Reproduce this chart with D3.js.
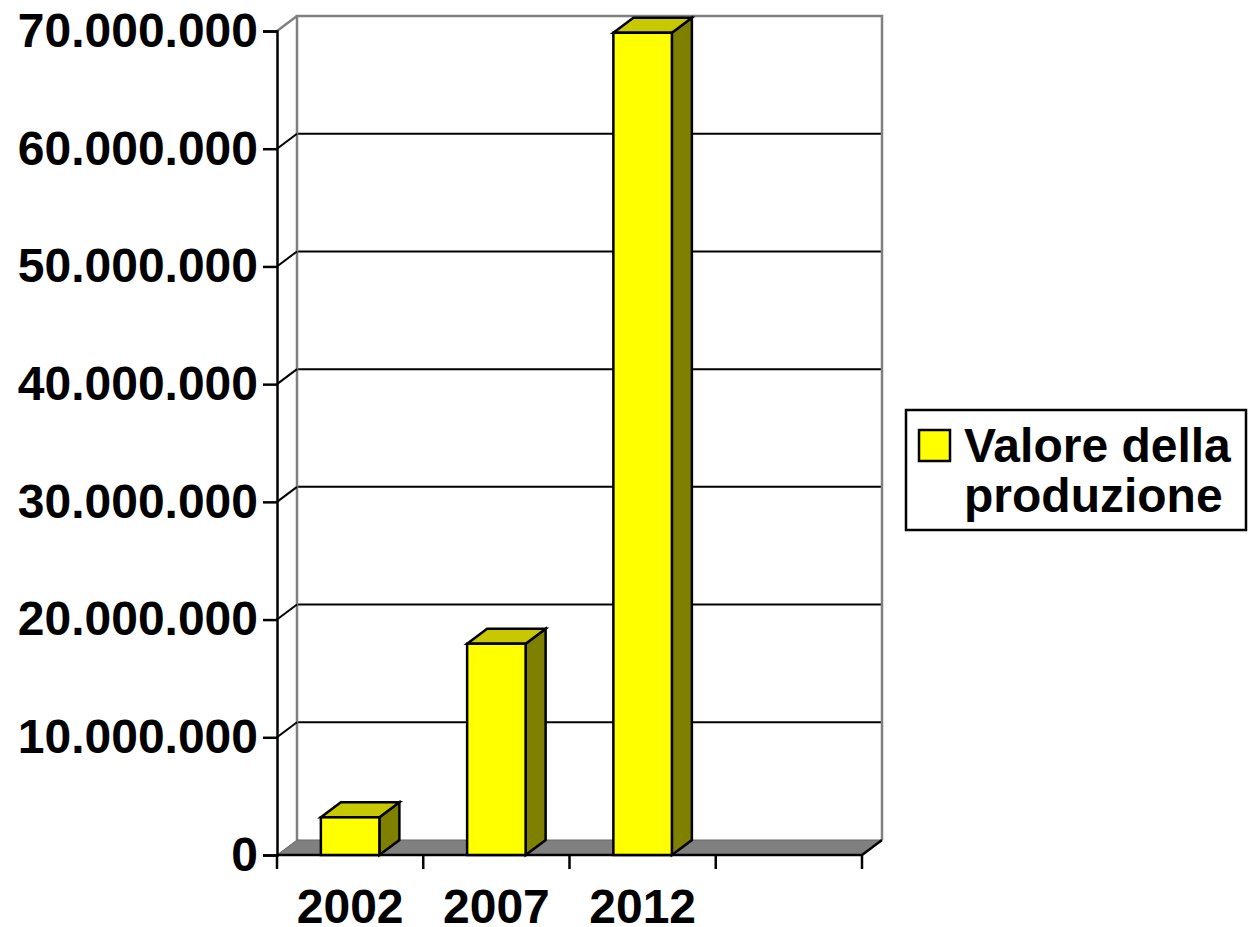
<!DOCTYPE html>
<html><head><meta charset="utf-8">
<script src="https://cdn.jsdelivr.net/npm/d3@7"></script>
<style>body{margin:0;background:#fff}svg{display:block}text{font-family:"Liberation Sans",Arial,sans-serif;font-weight:bold}</style>
</head><body>
<script>
const categories = ["2002", "2007", "2012", ""];
const values = [3200000, 17950000, 69850000, null];
const yTicks = [0, 10000000, 20000000, 30000000, 40000000, 50000000, 60000000, 70000000];
const tickLabels = ["0", "10.000.000", "20.000.000", "30.000.000", "40.000.000", "50.000.000", "60.000.000", "70.000.000"];
const seriesName = ["Valore della", "produzione"];

const W = 1249, H = 927;
const svg = d3.select("body").append("svg").attr("width", W).attr("height", H);
const dx = 20, dy = 15;
const x = d3.scaleBand().domain(categories).range([277, 862]).padding(0);
const y = d3.scaleLinear().domain([0, 70000000]).range([855, 31]);
const bw = x.bandwidth() / 2.5;

// back wall
const bx0 = 277 + dx, bx1 = 862 + dx;
svg.append("rect").attr("x", bx0).attr("y", y(70000000) - dy).attr("width", bx1 - bx0).attr("height", y(0) - y(70000000)).attr("fill", "#fff");
svg.selectAll(".grid").data(yTicks.slice(1, -1)).enter().append("line")
  .attr("x1", bx0).attr("x2", bx1).attr("y1", d => y(d) - dy).attr("y2", d => y(d) - dy)
  .attr("stroke", "#000").attr("stroke-width", 2);
svg.append("path").attr("d", `M${bx0},${y(0) - dy}V${y(70000000) - dy}H${bx1}V${y(0) - dy}`)
  .attr("fill", "none").attr("stroke", "#808080").attr("stroke-width", 2.5);
svg.append("line").attr("x1", 277).attr("y1", y(70000000)).attr("x2", bx0).attr("y2", y(70000000) - dy)
  .attr("stroke", "#808080").attr("stroke-width", 2.5);
svg.selectAll(".diag").data(yTicks.slice(1, -1)).enter().append("line")
  .attr("x1", 277).attr("y1", d => y(d)).attr("x2", bx0).attr("y2", d => y(d) - dy)
  .attr("stroke", "#000").attr("stroke-width", 2);

// floor
svg.append("path").attr("d", `M277,${y(0)}L862,${y(0)}L${bx1},${y(0) - dy}L${bx0},${y(0) - dy}Z`)
  .attr("fill", "#808080").attr("stroke", "#666").attr("stroke-width", 1);
svg.append("path").attr("d", `M277,${y(0)}L862,${y(0)}L${bx1},${y(0) - dy}`)
  .attr("fill", "none").attr("stroke", "#000").attr("stroke-width", 2.5);

// bars
const data = categories.map((c, i) => ({c, v: values[i]})).filter(d => d.v != null);
const g = svg.append("g").attr("stroke", "#000").attr("stroke-width", 2.5).attr("stroke-linejoin", "miter");
data.forEach(d => {
  const xl = x(d.c) + (x.bandwidth() - bw) / 2, xr = xl + bw;
  const yt = y(d.v), yb = y(0);
  g.append("path").attr("d", `M${xr},${yb}L${xr + dx},${yb - dy}L${xr + dx},${yt - dy}L${xr},${yt}Z`).attr("fill", "#808000");
  g.append("path").attr("d", `M${xl},${yt}L${xl + dx},${yt - dy}L${xr + dx},${yt - dy}L${xr},${yt}Z`).attr("fill", "#C8C800");
  g.append("rect").attr("x", xl).attr("y", yt).attr("width", bw).attr("height", yb - yt).attr("fill", "#FFFF00");
});

// y axis (front)
const yAxis = d3.axisLeft(y).tickValues(yTicks).tickSize(14).tickFormat((d, i) => tickLabels[i]);
const ya = svg.append("g").attr("transform", "translate(277,0)").call(yAxis);
ya.select(".domain").attr("stroke", "#000").attr("stroke-width", 2.5);
ya.selectAll(".tick line").attr("stroke", "#000").attr("stroke-width", 2.5);
ya.selectAll(".tick text").attr("x", -19).attr("font-size", 48).attr("fill", "#000")
  .attr("font-family", "'Liberation Sans', Arial, sans-serif").attr("font-weight", "bold");

// x axis
const xa = svg.append("g").attr("transform", `translate(0,${y(0)})`)
  .call(d3.axisBottom(x).tickSize(0).tickSizeOuter(0));
xa.select(".domain").remove();
xa.selectAll(".tick text").attr("y", 34).attr("dy", "0.71em").attr("font-size", 48).attr("fill", "#000")
  .attr("font-family", "'Liberation Sans', Arial, sans-serif").attr("font-weight", "bold");
const bounds = categories.map(c => x(c)).concat([x(categories[categories.length - 1]) + x.bandwidth()]);
svg.selectAll(".xt").data(bounds).enter().append("line")
  .attr("x1", d => d).attr("x2", d => d).attr("y1", y(0)).attr("y2", y(0) + 14)
  .attr("stroke", "#000").attr("stroke-width", 2.5);

// legend
const lg = svg.append("g");
lg.append("rect").attr("x", 906).attr("y", 410).attr("width", 340).attr("height", 120)
  .attr("fill", "#fff").attr("stroke", "#000").attr("stroke-width", 2.5);
lg.append("rect").attr("x", 919).attr("y", 430).attr("width", 31).attr("height", 31)
  .attr("fill", "#FFFF00").attr("stroke", "#000").attr("stroke-width", 2.5);
lg.selectAll(".lt").data(seriesName).enter().append("text")
  .attr("x", 964).attr("y", (d, i) => 462 + i * 50).attr("font-size", 48).attr("fill", "#000").text(d => d);
</script>
</body></html>
